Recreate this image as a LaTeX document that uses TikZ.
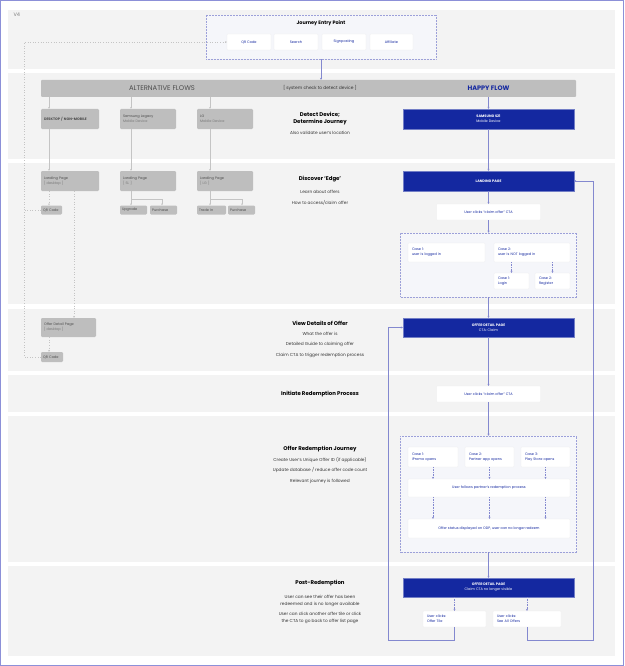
\documentclass[tikz,border=0pt]{standalone}
\usepackage{fontspec}
\setmainfont{Poppins}
\usetikzlibrary{arrows.meta}
\definecolor{bandbg}{HTML}{F3F3F3}
\definecolor{sblue}{HTML}{1428A0}
\definecolor{lineb}{HTML}{8388CF}
\definecolor{framec}{HTML}{8C90D8}
\definecolor{altgray}{HTML}{BEBEBE}
\definecolor{altline}{HTML}{C4C4C4}
\definecolor{alttext}{HTML}{4D4D4D}
\definecolor{altsub}{HTML}{7A7A7A}
\definecolor{contbg}{HTML}{F5F6FA}
\definecolor{midtext}{HTML}{333333}
\tikzset{
  band/.style={fill=bandbg, draw=none},
  altbox/.style={fill=altgray, rounded corners=1.2pt, inner xsep=3pt, inner ysep=0pt, align=left, text=alttext, font=\fontsize{3.5}{4.8}\selectfont},
  altsmall/.style={altbox, inner xsep=2pt},
  bluebox/.style={fill=sblue, inner sep=0pt, align=center, text=white, font=\fontsize{3.5}{4.8}\selectfont, minimum width=171pt, draw=sblue!60!white, line width=0.3pt},
  whitebox/.style={fill=white, draw=black!7, line width=0.2pt, rounded corners=0.8pt, inner xsep=4pt, inner ysep=0pt, text=sblue, font=\fontsize{3.5}{4.8}\selectfont},
  cont/.style={fill=contbg, draw=lineb!80, densely dotted, line width=0.5pt, inner sep=0pt},
  hline/.style={draw=lineb, line width=0.6pt},
  harrow/.style={hline, -{Stealth[length=2pt,width=2pt]}},
  hdot/.style={draw=lineb, densely dotted, line width=0.6pt, -{Stealth[length=2pt,width=2pt]}},
  aline/.style={draw=altline, line width=0.5pt},
  aarrow/.style={aline, -{Stealth[length=1.8pt,width=1.8pt]}},
  adot/.style={draw=altline, dotted, line width=0.6pt},
  adotarrow/.style={adot, -{Stealth[length=1.8pt,width=1.8pt]}},
  midtitle/.style={font=\bfseries\fontsize{5.4}{7}\selectfont, text=black, align=center},
  midbody/.style={font=\fontsize{4.3}{7}\selectfont, text=midtext, align=center},
}
\begin{document}
\begin{tikzpicture}[x=1pt,y=-1pt]
\useasboundingbox (0,0) rectangle (624,666);
\fill[white] (0,0) rectangle (624,666);
% bands
\fill[band] (8,10) rectangle (615,69);
\fill[band] (8,73) rectangle (615,159);
\fill[band] (8,163) rectangle (615,304);
\fill[band] (8,309) rectangle (615,371);
\fill[band] (8,375) rectangle (615,412);
\fill[band] (8,416) rectangle (615,562);
\fill[band] (8,566) rectangle (615,656);
\draw[framec, line width=1.2pt] (0.6,0.6) rectangle (623.4,665.4);
\node[font=\fontsize{5}{6}\selectfont, text=altsub, anchor=west] (vfour) at (10,15) {V4};

% entry point
\node[cont, minimum width=230pt, minimum height=44pt] (entry) at (321,37) {};
\node[font=\bfseries\fontsize{4.9}{6}\selectfont, text=black] (entryT) at (321,23) {Journey Entry Point};
\node[whitebox, minimum width=44pt, minimum height=16pt] (eqr) at (249,42) {QR Code};
\node[whitebox, minimum width=44pt, minimum height=16pt] (esearch) at (296,42) {Search};
\node[whitebox, minimum width=44pt, minimum height=16pt] (esign) at (344,42) {Signposting};
\node[whitebox, minimum width=43pt, minimum height=16pt] (eaff) at (391.5,42) {Affiliate};

% header bar
\node[fill=altgray, rounded corners=1pt, minimum width=535pt, minimum height=17pt, inner sep=0pt] (hdr) at (308.5,88.5) {};
\node[font=\fontsize{6.8}{8}\selectfont, text=alttext] (altT) at (162,88.5) {ALTERNATIVE FLOWS};
\node[font=\fontsize{4.4}{5}\selectfont, text=midtext] (sysT) at (320,88.5) {[ system check to detect device ]};
\node[font=\bfseries\fontsize{6.5}{8}\selectfont, text=sblue] (hapT) at (488.5,88.5) {HAPPY FLOW};

\draw[harrow] (entry.south) -- (hdr.north -| entry.south);

% alternative flows
\node[altbox, text width=52pt, minimum height=20pt] (desk) at (70,119) {\bfseries DESKTOP / NON-MOBILE};
\node[altbox, text width=50pt, minimum height=20pt] (sl) at (148,119) {Samsung Legacy\\ \textcolor{altsub}{Mobile Device}};
\node[altbox, text width=50pt, minimum height=20pt] (lg) at (225,119) {LG\\ \textcolor{altsub}{Mobile Device}};
\node[altbox, text width=52pt, minimum height=20pt] (lpd) at (70,181) {Landing Page\\ \textcolor{altsub}{[ desktop ]}};
\node[altbox, text width=50pt, minimum height=20pt] (lpsl) at (148,181) {Landing Page\\ \textcolor{altsub}{[ SL ]}};
\node[altbox, text width=50pt, minimum height=20pt] (lplg) at (225,181) {Landing Page\\ \textcolor{altsub}{[ LG ]}};
\node[altsmall, text width=17pt, minimum height=9pt] (qra) at (51.5,210) {QR Code};
\node[altsmall, text width=23pt, minimum height=9pt] (upg) at (133.5,210) {Upgrade};
\node[altsmall, text width=23pt, minimum height=9pt] (pura) at (163.5,210) {Purchase};
\node[altsmall, text width=25pt, minimum height=9pt] (trade) at (211.5,210) {Trade In};
\node[altsmall, text width=23pt, minimum height=9pt] (purb) at (241.5,210) {Purchase};
\node[altbox, text width=49pt, minimum height=19pt] (odpd) at (68.5,327.5) {Offer Detail Page\\ \textcolor{altsub}{[ desktop ]}};
\node[altsmall, text width=18pt, minimum height=10pt] (qrb) at (52,357) {QR Code};

\coordinate (xd) at (49,0);
\coordinate (xs) at (131,0);
\coordinate (xl) at (210,0);
\coordinate (xdd) at (74,0);
\coordinate (slbr) at (131,199);
\coordinate (lgbr) at (210,199);
\coordinate (xsp) at (162,0);
\coordinate (xlp) at (242,0);
\coordinate (lcorner) at (24,42);

\draw[aarrow] (hdr.south -| xd) -- (desk.north -| xd);
\draw[aarrow] (hdr.south -| xs) -- (sl.north -| xs);
\draw[aarrow] (hdr.south -| xl) -- (lg.north -| xl);
\draw[aarrow] (desk.south -| xd) -- (lpd.north -| xd);
\draw[aarrow] (sl.south -| xs) -- (lpsl.north -| xs);
\draw[aarrow] (lg.south -| xl) -- (lplg.north -| xl);
\draw[aarrow] (lpsl.south -| xs) -- (upg.north -| xs);
\draw[aarrow] (slbr) -| (pura.north -| xsp);
\draw[aarrow] (lplg.south -| xl) -- (trade.north -| xl);
\draw[aarrow] (lgbr) -| (purb.north -| xlp);
\draw[adotarrow] (lpd.south -| xd) -- (qra.north -| xd);
\draw[adotarrow] (lpd.south -| xdd) -- (odpd.north -| xdd);
\draw[adotarrow] (odpd.south -| xd) -- (qrb.north -| xd);
\draw[adotarrow] (qrb.west) -| (lcorner) -- (eqr.west);
\draw[adot] (qra.west) -- (qra.west -| lcorner);

% middle texts
\node[midtitle] (m2t) at (320,118.5) {Detect Device;\\Determine Journey};
\node[midbody] (m2b) at (320,133) {Also validate user’s location};
\node[midtitle] (m3t) at (320,179) {Discover ‘Edge’};
\node[midbody, font=\fontsize{4.3}{11}\selectfont] (m3b) at (320,197.5) {Learn about offers\\How to access/claim offer};
\node[midtitle] (m4t) at (320,323) {View Details of Offer};
\node[midbody, font=\fontsize{4.3}{10.5}\selectfont] (m4b) at (320,344.5) {What the offer is\\Detailed Guide to claiming offer\\Claim CTA to trigger redemption process};
\node[midtitle] (m5t) at (320,394) {Initiate Redemption Process};
\node[midtitle] (m6t) at (320,449) {Offer Redemption Journey};
\node[midbody, font=\fontsize{4.3}{10.5}\selectfont] (m6b) at (320,470.5) {Create User’s Unique Offer ID (if applicable)\\Update database / reduce offer code count\\Relevant journey is followed};
\node[midtitle] (m7t) at (320,583) {Post-Redemption};
\node[midbody] (m7b) at (320,600.5) {User can see their offer has been\\redeemed and is no longer available};
\node[midbody] (m7c) at (320,617.5) {User can click another offer tile or click\\the CTA to go back to offer list page};

% happy flow
\node[bluebox, minimum height=20pt] (s21) at (488.5,119) {\bfseries SAMSUNG S21\\Mobile Device};
\node[bluebox, minimum height=20pt] (lp) at (488.5,181) {\bfseries LANDING PAGE};
\node[whitebox, minimum width=104pt, minimum height=16pt] (claima) at (488.5,212) {User clicks “claim offer” CTA};
\node[cont, minimum width=176pt, minimum height=64pt] (conta) at (488.5,265) {};
\node[whitebox, text width=69pt, minimum height=19pt, align=left] (casea) at (446.5,252.5) {Case 1:\\user is logged in};
\node[whitebox, text width=68pt, minimum height=19pt, align=left] (caseb) at (532,252.5) {Case 2:\\user is NOT logged in};
\node[whitebox, text width=27pt, minimum height=16pt, align=left] (login) at (511.5,281) {Case 1:\\Login};
\node[whitebox, text width=27pt, minimum height=16pt, align=left] (register) at (552.5,281) {Case 2:\\Register};
\node[bluebox, minimum height=19pt] (odpa) at (488.5,327.5) {\bfseries OFFER DETAIL PAGE\\CTA: Claim};
\node[whitebox, minimum width=104pt, minimum height=16pt] (claimb) at (488.5,394) {User clicks “claim offer” CTA};
\node[cont, minimum width=176pt, minimum height=116pt] (contb) at (488.5,494) {};
\node[whitebox, text width=42pt, minimum height=20pt, align=left] (ca) at (433,457) {Case 1:\\iPromo opens};
\node[whitebox, text width=41pt, minimum height=20pt, align=left] (cb) at (489.5,457) {Case 2:\\Partner app opens};
\node[whitebox, text width=41pt, minimum height=20pt, align=left] (cc) at (545.5,457) {Case 3:\\Play Store opens};
\node[whitebox, minimum width=162pt, minimum height=18pt] (follows) at (489,488) {User follows partner’s redemption process};
\node[whitebox, minimum width=162pt, minimum height=19pt] (status) at (489,528.5) {Offer status displayed on ODP, user can no longer redeem};
\node[bluebox, minimum height=19pt] (odpb) at (488.5,587.5) {\bfseries OFFER DETAIL PAGE\\Claim CTA no longer visible};
\node[whitebox, text width=55pt, minimum height=16pt, align=left] (tile) at (454.5,619) {User clicks:\\Offer Tile};
\node[whitebox, text width=60pt, minimum height=16pt, align=left] (allo) at (527,619) {User clicks:\\See All Offers};

\coordinate (loopL) at (388,640);
\coordinate (loopR) at (593,640);

\draw[harrow] (hdr.south -| s21.north) -- (s21.north);
\draw[harrow] (s21.south) -- (lp.north);
\draw[harrow] (lp.south) -- (claima.north);
\draw[harrow] (claima.south) -- (conta.north);
\draw[hdot] (caseb.south -| login.north) -- (login.north);
\draw[hdot] (caseb.south -| register.north) -- (register.north);
\draw[harrow] (conta.south) -- (odpa.north);
\draw[harrow] (odpa.south) -- (claimb.north);
\draw[harrow] (claimb.south) -- (contb.north);
\draw[hdot] (ca.south) -- (follows.north -| ca.south);
\draw[hdot] (cb.south) -- (follows.north -| cb.south);
\draw[hdot] (cc.south) -- (follows.north -| cc.south);
\draw[hdot] (follows.south -| ca.south) -- (status.north -| ca.south);
\draw[hdot] (follows.south -| cb.south) -- (status.north -| cb.south);
\draw[hdot] (follows.south -| cc.south) -- (status.north -| cc.south);
\draw[harrow] (contb.south) -- (odpb.north);
\draw[hdot] (odpb.south -| tile.north) -- (tile.north);
\draw[hdot] (odpb.south -| allo.north) -- (allo.north);
\draw[harrow] (tile.south) |- (loopL) |- (odpa.west);
\draw[harrow] (allo.south) |- (loopR) |- (lp.east);
\end{tikzpicture}
\end{document}
